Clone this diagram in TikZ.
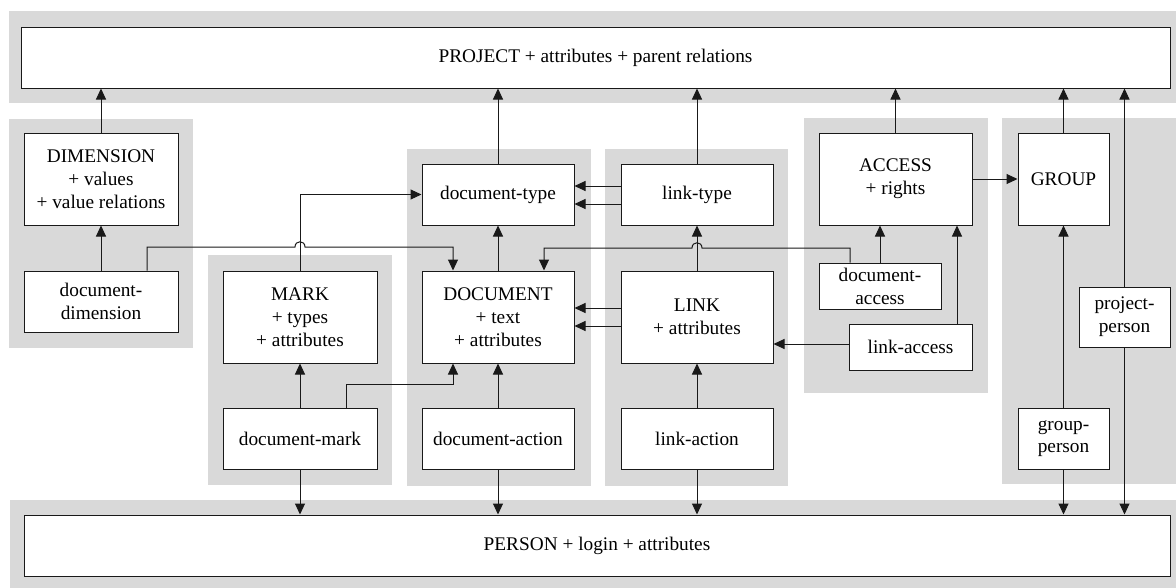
\documentclass[tikz,border=0pt]{standalone}
\usepackage{fontspec}
\setmainfont{LiberationSerif}[Extension=.ttf, UprightFont=*-Regular, BoldFont=*-Bold, ItalicFont=*-Italic, BoldItalicFont=*-BoldItalic]
\usetikzlibrary{arrows.meta}
\definecolor{bg}{RGB}{217,217,217}
\definecolor{ln}{RGB}{25,25,25}
\tikzset{
 box/.style={draw=ln, fill=white, line width=1pt, inner sep=0pt, align=center,
   font=\rmfamily\fontsize{19.3}{22.8}\selectfont},
 conn/.style={draw=ln, line width=1pt},
 arr/.style={conn, -{Triangle[length=11pt,width=10pt]}},
 band/.style={fill=bg},
}
\begin{document}
\begin{tikzpicture}[x=1pt,y=-1pt]
\useasboundingbox (0,0) rectangle (1176,587);
\clip (0,0) rectangle (1176,587);
% grey bands
\fill[band] (9,11) rectangle (1180,103);
\fill[band] (10,500) rectangle (1180,590);
\fill[band] (9,119) rectangle (193,348);
\fill[band] (208,255) rectangle (392,485);
\fill[band] (407,149) rectangle (591,486);
\fill[band] (605,149) rectangle (788,486);
\fill[band] (804,118) rectangle (988,393);
\fill[band] (1002,118) rectangle (1180,484);
% boxes
\node[box, minimum width=1149pt, minimum height=61pt] (project) at (595.5,57.5) {PROJECT + attributes + parent relations};
\node[box, minimum width=1146pt, minimum height=61pt] (person) at (597,545.5) {PERSON + login + attributes};
\node[box, minimum width=154pt, minimum height=92pt] (dimension) at (101,179) {DIMENSION\\+ values\\+ value relations};
\node[box, minimum width=154pt, minimum height=61pt] (docdim) at (101,301.5) {document-\\dimension};
\node[box, minimum width=154pt, minimum height=92pt] (mark) at (300,317) {MARK\\+ types\\+ attributes};
\node[box, minimum width=154pt, minimum height=61pt] (docmark) at (300,438.5) {document-mark};
\node[box, minimum width=152pt, minimum height=61pt] (doctype) at (498,194.5) {document-type};
\node[box, minimum width=152pt, minimum height=92pt] (document) at (498,317) {DOCUMENT\\+ text\\+ attributes};
\node[box, minimum width=152pt, minimum height=61pt] (docaction) at (498,438.5) {document-action};
\node[box, minimum width=152pt, minimum height=61pt] (linktype) at (697,194.5) {link-type};
\node[box, minimum width=152pt, minimum height=92pt] (link) at (697,317) {LINK\\+ attributes};
\node[box, minimum width=152pt, minimum height=61pt] (linkaction) at (697,438.5) {link-action};
\node[box, minimum width=153pt, minimum height=92pt] (access) at (895.5,179) {ACCESS\\+ rights};
\node[box, minimum width=122pt, minimum height=46pt] (docaccess) at (880,286) {document-\\access};
\node[box, minimum width=123pt, minimum height=46pt] (linkaccess) at (910.5,347) {link-access};
\node[box, minimum width=91pt, minimum height=92pt] (group) at (1063.5,179) {GROUP};
\node[box, minimum width=91pt, minimum height=60pt] (projperson) at (1124.5,317) {project-\\person};
\node[box, minimum width=91pt, minimum height=61pt] (groupperson) at (1063.5,438.5) {group-\\person};
% connectors to PROJECT
\draw[arr] (dimension.north) -- (dimension.north |- project.south);
\draw[arr] (doctype.north) -- (doctype.north |- project.south);
\draw[arr] (linktype.north) -- (linktype.north |- project.south);
\draw[arr] (access.north) -- (access.north |- project.south);
\draw[arr] (group.north) -- (group.north |- project.south);
\draw[arr] (projperson.north) -- (projperson.north |- project.south);
% connectors to PERSON
\draw[arr] (docmark.south) -- (docmark.south |- person.north);
\draw[arr] (docaction.south) -- (docaction.south |- person.north);
\draw[arr] (linkaction.south) -- (linkaction.south |- person.north);
\draw[arr] (groupperson.south) -- (groupperson.south |- person.north);
\draw[arr] (projperson.south) -- (projperson.south |- person.north);
% dimension column
\draw[arr] (docdim.north) -- (dimension.south);
\draw[arr] ([xshift=46pt]docdim.north) |- (295,247) .. controls (295,240) and (305,240) .. (305,247) -| ([xshift=-45pt]document.north);
% mark column
\draw[arr] (mark.north) |- (doctype.west);
\draw[arr] (docmark.north) -- (mark.south);
\draw[arr] ([xshift=46pt]docmark.north) -- ++(0,-23) -| ([xshift=-45pt]document.south);
% document column
\draw[arr] (document.north) -- (doctype.south);
\draw[arr] (docaction.north) -- (document.south);
% link column
\draw[arr] ([yshift=8.5pt]linktype.west) -- ([yshift=8.5pt]doctype.east);
\draw[arr] ([yshift=-9.5pt]linktype.west) -- ([yshift=-9.5pt]doctype.east);
\draw[arr] ([yshift=9pt]link.west) -- ([yshift=9pt]document.east);
\draw[arr] ([yshift=-9pt]link.west) -- ([yshift=-9pt]document.east);
\draw[arr] (link.north) -- (linktype.south);
\draw[arr] (linkaction.north) -- (link.south);
% access column
\draw[arr] (access.east) -- (group.west);
\draw[arr] (docaccess.north) -- (docaccess.north |- access.south);
\draw[arr] ([xshift=-30pt]docaccess.north) |- (702,248) .. controls (702,241) and (692,241) .. (692,248) -| ([xshift=46pt]document.north);
\draw[arr] ([xshift=46.5pt]linkaccess.north) -- ([xshift=61.5pt]access.south);
\draw[arr] ([yshift=3pt]linkaccess.west) -- ([yshift=-27pt]link.east);
% group column
\draw[arr] (groupperson.north) -- (group.south);
\end{tikzpicture}
\end{document}
